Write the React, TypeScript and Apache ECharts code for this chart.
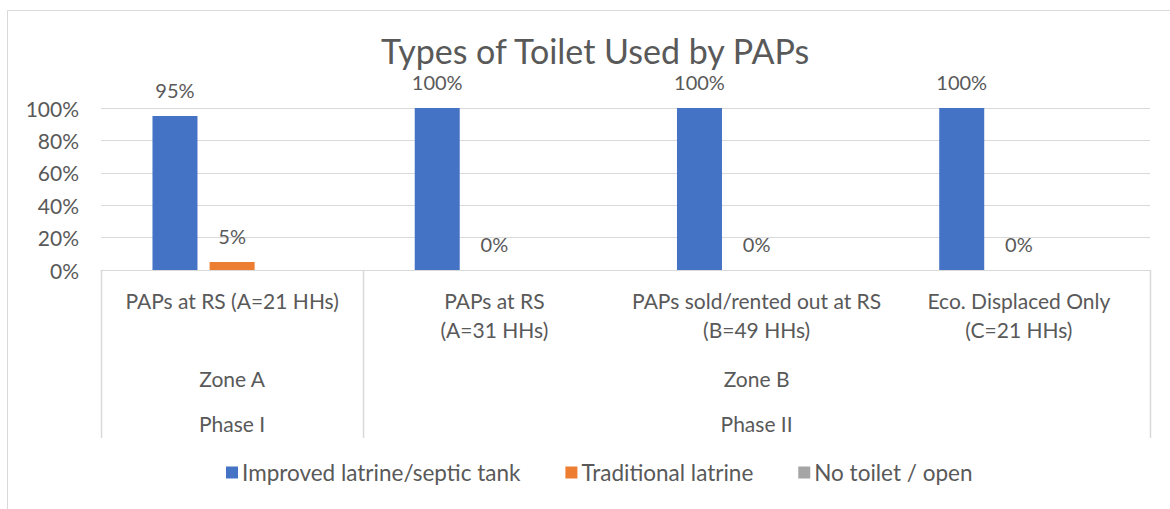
import React, { useEffect, useRef } from "react";
import * as echarts from "echarts";

const title = "Types of Toilet Used by PAPs";
const categories = [
  "PAPs at RS (A=21 HHs)",
  "PAPs at RS\n(A=31 HHs)",
  "PAPs sold/rented out at RS\n(B=49 HHs)",
  "Eco. Displaced Only\n(C=21 HHs)",
];
const zones = ["Zone A", "Zone B"];
const zoneSpans = [1, 3];
const phases = ["Phase I", "Phase II"];
const phaseSpans = [1, 3];
const seriesNames = ["Improved latrine/septic tank", "Traditional latrine", "No toilet / open"];
const improved = [95, 100, 100, 100];
const traditional = [5, 0, 0, 0];
const noToilet = [0, 0, 0, 0];
const yTicks = [0, 20, 40, 60, 80, 100];

const FONT = "Lato";
const TEXT = "#595959";
const GRID = "#d9d9d9";

export default function App() {
  const ref = useRef<HTMLDivElement>(null);
  useEffect(() => {
    if (!ref.current) return;
    const chart = echarts.init(ref.current, undefined, { renderer: "svg" });
    const labelStyle = {
      show: true,
      position: "top",
      distance: 16,
      formatter: "{c}%",
      color: TEXT,
      fontFamily: FONT,
      fontSize: 20,
    };
    chart.setOption({
      animation: false,
      textStyle: { fontFamily: FONT },
      title: {
        text: title,
        left: 381,
        top: 33,
        padding: 0,
        textStyle: { color: TEXT, fontFamily: FONT, fontSize: 34, fontWeight: "normal", lineHeight: 34 },
      },
      legend: {
        bottom: 25,
        left: 226,
        itemWidth: 12,
        itemHeight: 12,
        itemGap: 45,
        icon: "rect",
        padding: 0,
        textStyle: { color: TEXT, fontFamily: FONT, fontSize: 22.5, padding: [0, 0, 0, -1] },
        data: seriesNames,
      },
      grid: { left: 101, right: 20, top: 108, bottom: 239, containLabel: false },
      xAxis: {
        type: "category",
        data: categories,
        axisLine: { show: true, lineStyle: { color: GRID, width: 1 } },
        axisTick: { show: false },
        axisLabel: {
          interval: 0,
          color: TEXT,
          fontFamily: FONT,
          fontSize: 21,
          lineHeight: 29,
          margin: 16,
        },
      },
      yAxis: {
        type: "value",
        min: yTicks[0],
        max: yTicks[yTicks.length - 1],
        interval: 20,
        axisLabel: {
          formatter: "{value}%",
          color: TEXT,
          fontFamily: FONT,
          fontSize: 21,
          margin: 22,
        },
        axisLine: { show: false },
        axisTick: { show: false },
        splitLine: { lineStyle: { color: GRID, width: 1 } },
      },
      series: [
        {
          name: seriesNames[0],
          type: "bar",
          data: improved,
          barWidth: 45,
          barGap: "27%",
          itemStyle: { color: "#4472C4" },
          label: labelStyle,
        },
        {
          name: seriesNames[1],
          type: "bar",
          data: traditional,
          barWidth: 45,
          barGap: "27%",
          itemStyle: { color: "#ED7D31" },
          label: labelStyle,
        },
        {
          name: seriesNames[2],
          type: "bar",
          data: noToilet,
          barWidth: 45,
          barGap: "27%",
          itemStyle: { color: "#A5A5A5" },
          label: { show: false },
        },
      ],
    });

    // Multi-level category labels and separators, positioned from the axis scale
    const c0 = chart.convertToPixel({ xAxisIndex: 0 }, 0) as number;
    const c1 = chart.convertToPixel({ xAxisIndex: 0 }, 1) as number;
    const band = c1 - c0;
    const start = c0 - band / 2;
    const y0 = chart.convertToPixel({ yAxisIndex: 0 }, 0) as number;
    const lineBottom = y0 + 168;
    const elements: any[] = [
      {
        type: "rect",
        shape: { x: 7.5, y: 10.5, width: 1300, height: 700 },
        style: { fill: "none", stroke: GRID, lineWidth: 1 },
        silent: true,
      },
    ];
    const addRow = (names: string[], spans: number[], y: number) => {
      let idx = 0;
      names.forEach((n, i) => {
        const x = start + band * (idx + spans[i] / 2);
        elements.push({
          type: "text",
          x,
          y,
          style: {
            text: n,
            fill: TEXT,
            font: `21px ${FONT}`,
            align: "center",
            verticalAlign: "middle",
          },
        });
        idx += spans[i];
      });
    };
    addRow(zones, zoneSpans, y0 + 108);
    addRow(phases, phaseSpans, y0 + 153);
    let b = 0;
    const bounds = [0];
    phaseSpans.forEach((s) => {
      b += s;
      bounds.push(b);
    });
    bounds.forEach((k) => {
      const x = Math.round(start + band * k) + 0.5;
      elements.push({
        type: "line",
        shape: { x1: x, y1: y0, x2: x, y2: lineBottom },
        style: { stroke: GRID, lineWidth: 1.5 },
      });
    });
    chart.setOption({ graphic: { elements } });

    return () => chart.dispose();
  }, []);
  return (
    <div
      ref={ref}
      style={{ position: "fixed", left: 0, top: 0, width: 1170, height: 509, background: "#fff" }}
    />
  );
}
